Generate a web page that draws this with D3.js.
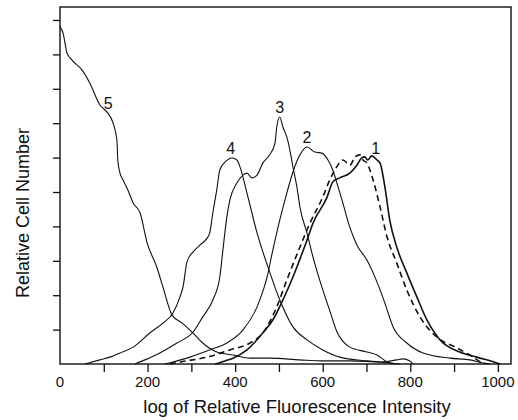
<!DOCTYPE html>
<html>
<head>
<meta charset="utf-8">
<script src="https://cdn.jsdelivr.net/npm/d3@7"></script>
<style>
  html, body { margin: 0; padding: 0; background: #fff; }
  svg { display: block; font-family: "Liberation Sans", Arial, sans-serif; }
</style>
</head>
<body>
<svg id="chart" width="518" height="420"></svg>
<script>
// ---- data (x: log fluorescence intensity, y: relative cell number) ----
const curve1 = [[354,0],[377,0.09],[395,0.17],[427,0.41],[463,0.9],[486,1.28],[509,1.86],[532,2.53],[564,3.6],[578,4.1],[610,4.85],[623,5.29],[639,5.41],[662,5.55],[678,5.78],[689,5.99],[696,6.02],[703,5.93],[712,6.05],[724,5.93],[731,5.84],[742,5.15],[753,4.19],[769,3.4],[792,2.65],[815,1.95],[838,1.28],[868,0.7],[913,0.35],[952,0.2],[998,0.03],[1005,0]];
const curve1b = [[251,0],[274,0.06],[336,0.2],[388,0.41],[434,0.61],[463,0.9],[495,1.66],[518,2.44],[548,3.4],[571,4.1],[600,4.85],[616,5.35],[632,5.73],[646,5.93],[662,5.78],[674,6.02],[685,6.08],[692,5.93],[701,5.84],[715,5.35],[731,4.56],[747,3.69],[769,2.94],[792,2.15],[822,1.37],[861,0.78],[906,0.47],[936,0.26],[966,0.03],[975,0]];
const curve2 = [[240,0],[297,0.2],[342,0.41],[381,0.61],[418,0.99],[450,1.66],[473,2.53],[486,3.31],[502,4.19],[518,4.97],[532,5.58],[548,6.08],[564,6.31],[582,6.16],[598,6.13],[612,5.93],[623,5.64],[635,5.15],[644,4.77],[662,3.97],[678,3.46],[701,3.02],[724,2.38],[742,1.77],[760,1.1],[792,0.61],[829,0.32],[890,0.17],[936,0.12],[966,0.03],[982,0]];
const curve3 = [[171,0],[194,0.12],[228,0.32],[267,0.61],[304,0.93],[326,1.37],[349,1.86],[365,2.53],[372,3.31],[381,4.27],[388,4.77],[404,5.26],[418,5.49],[427,5.55],[438,5.41],[450,5.49],[463,5.84],[479,6.08],[491,6.42],[495,6.89],[502,7.18],[509,6.89],[518,6.6],[525,6.22],[532,5.73],[541,5.15],[548,4.56],[564,3.81],[578,3.1],[594,2.4],[616,1.55],[632,0.95],[662,0.49],[701,0.35],[724,0.26],[747,0.06],[765,0]];
const curve4 = [[57,0],[91,0.12],[114,0.2],[137,0.32],[167,0.49],[205,0.9],[235,1.19],[258,1.48],[274,1.95],[281,2.24],[290,2.97],[304,3.26],[320,3.46],[336,3.66],[342,3.81],[349,4.39],[358,5.06],[365,5.64],[377,5.87],[393,5.99],[404,5.93],[411,5.73],[427,4.97],[450,3.81],[479,2.67],[502,1.86],[532,1.08],[564,0.7],[600,0.41],[639,0.2],[701,0.09],[753,0.03],[776,0]];
const curve5 = [[0,9.8],[7,9.62],[16,9.04],[27,8.84],[50,8.55],[68,8.17],[91,7.53],[107,7.33],[121,7.01],[130,6.51],[132,5.93],[137,5.55],[144,5.35],[155,5.06],[167,4.68],[183,4.39],[199,3.52],[221,2.82],[235,2.24],[256,1.42],[279,1.19],[304,0.9],[326,0.61],[358,0.35],[395,0.26],[434,0.17],[479,0.17],[548,0.12],[600,0.09],[662,0.09],[737,0.06],[769,0.12],[783,0.15],[799,0.09],[806,0]];

const curveLabels = ["1", "2", "3", "4", "5"];
const labelPos = [[721, 6.28], [564, 6.6], [502, 7.47], [390, 6.28], [110, 7.59]];

const xTickValues = [100, 200, 300, 400, 500, 600, 700, 800, 900, 1000];
const xTickLabels = ["0", "200", "400", "600", "800", "1000"];
const yTickValues = [1, 2, 3, 4, 5, 6, 7, 8, 9, 10];

const xTitle = "log of Relative Fluorescence Intensity";
const yTitle = "Relative Cell Number";

// ---- drawing ----
const svg = d3.select("#chart");
const x = d3.scaleLinear().domain([0, 1030]).range([60, 511]);
const y = d3.scaleLinear().domain([0, 10]).range([364, 20]);
const ink = "#111";

const line = d3.line().x(d => x(d[0])).y(d => y(d[1])).curve(d3.curveMonotoneX);

// frame
svg.append("rect")
  .attr("x", x(0)).attr("y", 7)
  .attr("width", x(1030) - x(0)).attr("height", y(0) - 7)
  .attr("fill", "none").attr("stroke", ink).attr("stroke-width", 1.4);

// x axis
const xAxis = d3.axisBottom(x).tickValues(xTickValues).tickSize(8).tickFormat("");
const gx = svg.append("g").attr("transform", `translate(0,${y(0)})`).call(xAxis);
gx.select(".domain").remove();
gx.selectAll("line").attr("stroke", ink).attr("stroke-width", 1.3);

svg.selectAll(".xlab").data(xTickLabels).enter().append("text")
  .attr("class", "xlab")
  .attr("x", d => x(+d)).attr("y", 387)
  .attr("text-anchor", "middle")
  .attr("font-size", 15).attr("fill", ink)
  .text(d => d);

// y axis
const yAxis = d3.axisLeft(y).tickValues(yTickValues).tickSize(7).tickFormat("");
const gy = svg.append("g").attr("transform", `translate(${x(0)},0)`).call(yAxis);
gy.select(".domain").remove();
gy.selectAll("line").attr("stroke", ink).attr("stroke-width", 1.3);

// titles
svg.append("text")
  .attr("x", 297).attr("y", 413)
  .attr("text-anchor", "middle")
  .attr("font-size", 18.5).attr("fill", ink)
  .text(xTitle);
svg.append("text")
  .attr("transform", "translate(29,213) rotate(-90)")
  .attr("text-anchor", "middle")
  .attr("font-size", 18).attr("fill", ink)
  .text(yTitle);

// curves
const series = [
  { data: curve5, w: 1.1, dash: null },
  { data: curve4, w: 1.1, dash: null },
  { data: curve3, w: 1.1, dash: null },
  { data: curve2, w: 1.1, dash: null },
  { data: curve1b, w: 1.6, dash: "6,4" },
  { data: curve1, w: 1.6, dash: null }
];
svg.selectAll(".curve").data(series).enter().append("path")
  .attr("class", "curve")
  .attr("d", d => line(d.data))
  .attr("fill", "none")
  .attr("stroke", ink)
  .attr("stroke-width", d => d.w)
  .attr("stroke-dasharray", d => d.dash);

// curve labels
svg.selectAll(".clab").data(curveLabels).enter().append("text")
  .attr("class", "clab")
  .attr("x", (d, i) => x(labelPos[i][0]))
  .attr("y", (d, i) => y(labelPos[i][1]))
  .attr("dy", "0.36em")
  .attr("text-anchor", "middle")
  .attr("font-size", 16).attr("fill", ink)
  .text(d => d);
</script>
</body>
</html>
